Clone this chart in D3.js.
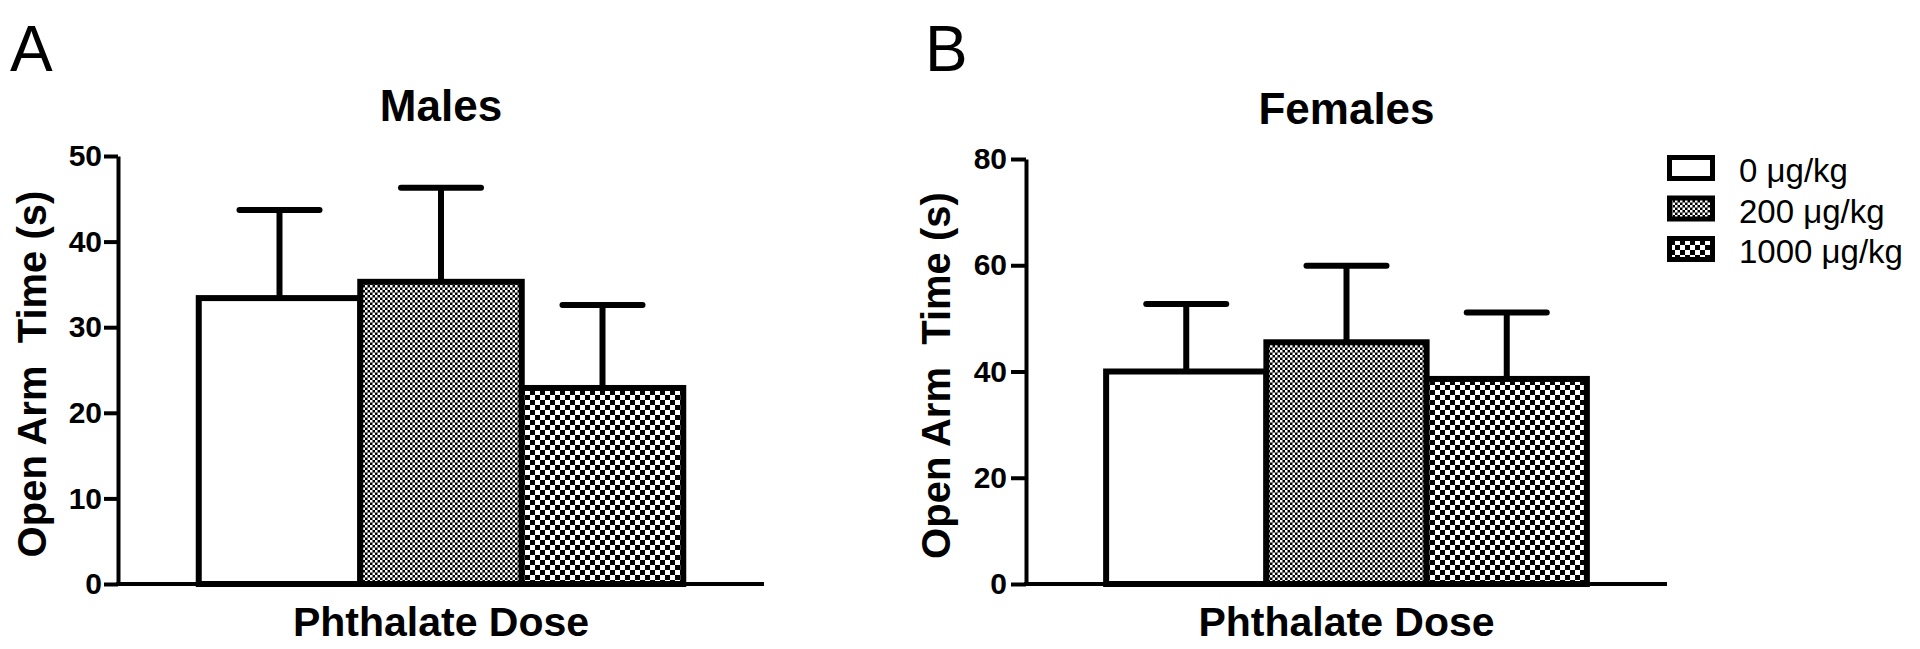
<!DOCTYPE html>
<html>
<head>
<meta charset="utf-8">
<script src="https://cdn.jsdelivr.net/npm/d3@7"></script>
<style>
  html, body { margin: 0; padding: 0; background: #fff; }
  svg { display: block; }
  text { font-family: "Liberation Sans", Arial, Helvetica, sans-serif; fill: #000; }
</style>
</head>
<body>
<svg id="chart" width="1920" height="649"></svg>
<script>
// ---- data ----
const categories = ["0 μg/kg", "200 μg/kg", "1000 μg/kg"];
const malesMean = [33.4, 35.3, 22.9];
const malesSem = [10.3, 11.0, 9.7];
const femalesMean = [40.0, 45.5, 38.6];
const femalesSem = [12.7, 14.4, 12.5];
const malesTicks = [0, 10, 20, 30, 40, 50];
const femalesTicks = [0, 20, 40, 60, 80];
const panelTitles = ["Males", "Females"];
const panelLetters = ["A", "B"];
const yTitle = "Open Arm  Time (s)";
const xTitle = "Phthalate Dose";

const svg = d3.select("#chart");
const defs = svg.append("defs");

// patterns
const pFine = defs.append("pattern").attr("id", "pFine")
  .attr("patternUnits", "userSpaceOnUse").attr("width", 5).attr("height", 5);
pFine.append("rect").attr("width", 5).attr("height", 5).attr("fill", "#000");
pFine.append("rect").attr("x", 0).attr("y", 0).attr("width", 2.5).attr("height", 2.5).attr("fill", "#fff");
pFine.append("rect").attr("x", 2.5).attr("y", 2.5).attr("width", 2.5).attr("height", 2.5).attr("fill", "#fff");

const pCoarse = defs.append("pattern").attr("id", "pCoarse")
  .attr("patternUnits", "userSpaceOnUse").attr("width", 10).attr("height", 10);
pCoarse.append("rect").attr("width", 10).attr("height", 10).attr("fill", "#fff");
pCoarse.append("rect").attr("x", 0).attr("y", 0).attr("width", 5).attr("height", 5).attr("fill", "#000");
pCoarse.append("rect").attr("x", 5).attr("y", 5).attr("width", 5).attr("height", 5).attr("fill", "#000");

const fills = d3.scaleOrdinal().domain(categories).range(["#fff", "url(#pFine)", "url(#pCoarse)"]);

function panel(opts) {
  const g = svg.append("g");
  const x = d3.scaleBand().domain(categories).range([opts.x0, opts.x1]).paddingInner(0).paddingOuter(0.5);
  const y = d3.scaleLinear().domain([0, opts.ticks[opts.ticks.length - 1]]).range([584, opts.yTop]);

  // y axis
  const ya = g.append("g").attr("transform", `translate(${opts.x0},0)`)
    .call(d3.axisLeft(y).tickValues(opts.ticks).tickSize(opts.tickLen).tickPadding(opts.tickPad).tickSizeOuter(0));
  ya.select(".domain").attr("stroke", "#000").attr("stroke-width", 4);
  ya.selectAll(".tick line").attr("stroke", "#000").attr("stroke-width", 4);
  ya.selectAll(".tick text").attr("font-size", 30).attr("font-weight", "bold")
    .attr("font-family", '"Liberation Sans", Arial, sans-serif').attr("fill", "#000");

  // x axis line
  const xa = g.append("g").attr("transform", `translate(0,${y(0)})`)
    .call(d3.axisBottom(x).tickSize(0).tickFormat(""));
  xa.select(".domain").attr("stroke", "#000").attr("stroke-width", 4)
    .attr("d", `M${opts.x0 - 2},0H${opts.x1}`);

  const data = categories.map((c, i) => ({ c, m: opts.mean[i], s: opts.sem[i] }));

  // error bars
  const eb = g.append("g");
  eb.selectAll("line.v").data(data).join("line").attr("class", "v")
    .attr("x1", d => x(d.c) + x.bandwidth() / 2).attr("x2", d => x(d.c) + x.bandwidth() / 2)
    .attr("y1", d => y(d.m)).attr("y2", d => y(d.m + d.s))
    .attr("stroke", "#000").attr("stroke-width", 6);
  eb.selectAll("line.c").data(data).join("line").attr("class", "c")
    .attr("x1", d => x(d.c) + x.bandwidth() / 2 - 40).attr("x2", d => x(d.c) + x.bandwidth() / 2 + 40)
    .attr("y1", d => y(d.m + d.s)).attr("y2", d => y(d.m + d.s))
    .attr("stroke", "#000").attr("stroke-width", 6).attr("stroke-linecap", "round");

  // bars
  g.append("g").selectAll("rect").data(data).join("rect")
    .attr("x", d => x(d.c)).attr("width", x.bandwidth())
    .attr("y", d => y(d.m)).attr("height", d => y(0) - y(d.m))
    .attr("fill", d => fills(d.c)).attr("stroke", "#000").attr("stroke-width", 6);

  const cx = (opts.x0 + opts.x1) / 2;
  g.append("text").attr("x", cx).attr("y", opts.titleY).attr("text-anchor", "middle")
    .attr("font-size", 44).attr("font-weight", "bold").text(opts.title);
  g.append("text").attr("x", cx).attr("y", 636).attr("text-anchor", "middle")
    .attr("font-size", 41).attr("font-weight", "bold").text(xTitle);
  g.append("text").attr("transform", `translate(${opts.yLabX},${(584 + opts.yTop) / 2 + 4}) rotate(-90)`)
    .attr("text-anchor", "middle").style("white-space", "pre")
    .attr("font-size", 40).attr("font-weight", "bold").text(yTitle);
  g.append("text").attr("x", opts.letterX).attr("y", 71)
    .attr("font-size", 64).text(opts.letter);
}

panel({ x0: 118, x1: 764, yTop: 156, ticks: malesTicks, mean: malesMean, sem: malesSem,
  title: panelTitles[0], titleY: 121, yLabX: 46, letter: panelLetters[0], letterX: 10, tickLen: 14, tickPad: 2 });
panel({ x0: 1026, x1: 1667, yTop: 159, ticks: femalesTicks, mean: femalesMean, sem: femalesSem,
  title: panelTitles[1], titleY: 124, yLabX: 950, letter: panelLetters[1], letterX: 925, tickLen: 15, tickPad: 4 });

// legend
const leg = svg.append("g");
const rowTops = [155, 195.5, 236];
leg.selectAll("rect").data(categories).join("rect")
  .attr("x", 1669.5).attr("y", (d, i) => rowTops[i] + 2.5)
  .attr("width", 43).attr("height", 21)
  .attr("fill", d => fills(d)).attr("stroke", "#000").attr("stroke-width", 5);
leg.selectAll("text").data(categories).join("text")
  .attr("x", 1739).attr("y", (d, i) => rowTops[i] + 27)
  .attr("font-size", 33).text(d => d);
</script>
</body>
</html>
